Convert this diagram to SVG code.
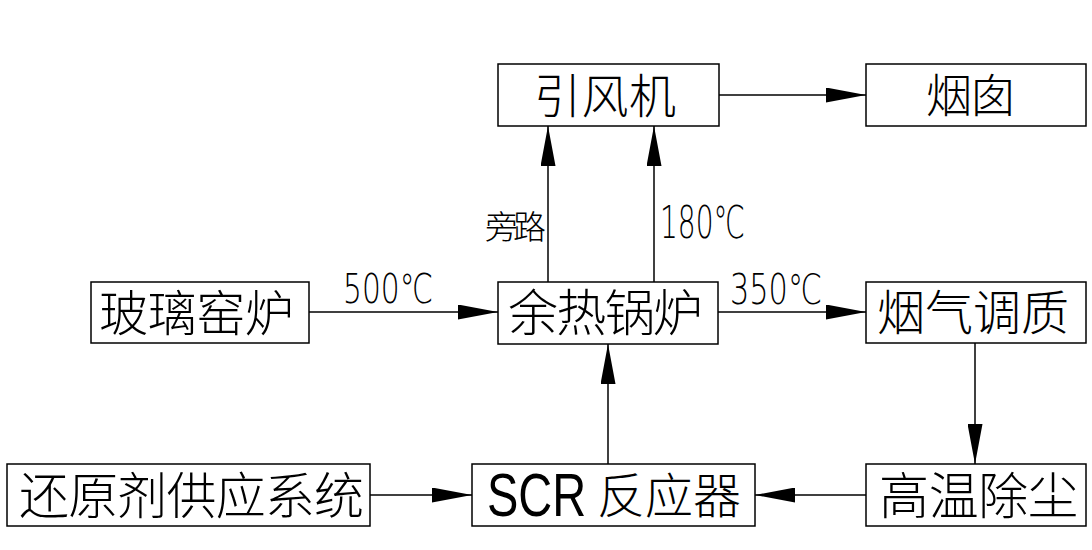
<svg xmlns="http://www.w3.org/2000/svg" width="1092" height="550" viewBox="0 0 1092 550">
<style>
.box{fill:#fff;stroke:#000;stroke-width:1.5}
.cjk{font-family:"Noto Sans CJK SC",sans-serif;font-weight:300;fill:#000}
.num{font-family:"DejaVu Sans","Liberation Sans",sans-serif;font-weight:200;fill:#000}
.lat{font-family:"Liberation Sans",sans-serif;font-weight:normal;fill:#000}
.con{fill:none;stroke:#000;stroke-width:1.5;marker-end:url(#ah)}
</style>
<defs>
<marker id="ah" markerUnits="userSpaceOnUse" markerWidth="40" markerHeight="15" refX="40" refY="7.5" orient="auto">
<path d="M0,0 L40,7.5 L0,15 z" fill="#000"/>
</marker>
</defs>
<rect width="1092" height="550" fill="#fff"/>
<g id="connectors">
<path class="con" d="M309,312 H498"/>
<path class="con" d="M718,312 H866"/>
<path class="con" d="M719,95 H866"/>
<path class="con" d="M548,282 V126"/>
<path class="con" d="M654,282 V126"/>
<path class="con" d="M975,343 V464"/>
<path class="con" d="M866,495 H755"/>
<path class="con" d="M370,495 H472"/>
<path class="con" d="M608,464 V344"/>
<text class="cjk" x="485" y="239" font-size="33" textLength="61">旁路</text>
<text class="num" x="660" y="238" font-size="45" textLength="85" lengthAdjust="spacingAndGlyphs">180℃</text>
<text class="num" x="343" y="303" font-size="41" textLength="90" lengthAdjust="spacingAndGlyphs">500℃</text>
<text class="num" x="730" y="304" font-size="42" textLength="92" lengthAdjust="spacingAndGlyphs">350℃</text>
</g>
<g id="node-yinfengji">
<rect class="box" x="498" y="64" width="221" height="62"/>
<text class="cjk" x="534" y="113" font-size="47" textLength="142">引风机</text>
</g>
<g id="node-yancong">
<rect class="box" x="866" y="64" width="220" height="62"/>
<text class="cjk" x="926" y="112" font-size="46" textLength="90">烟囱</text>
</g>
<g id="node-boliyaolu">
<rect class="box" x="91" y="282" width="218" height="61"/>
<text class="cjk" x="99" y="331" font-size="49" textLength="195">玻璃窑炉</text>
</g>
<g id="node-yureguolu">
<rect class="box" x="498" y="282" width="220" height="62"/>
<text class="cjk" x="508" y="331" font-size="50" textLength="195">余热锅炉</text>
</g>
<g id="node-yanqitiaozhi">
<rect class="box" x="866" y="282" width="220" height="61"/>
<text class="cjk" x="877" y="330" font-size="48" textLength="192">烟气调质</text>
</g>
<g id="node-huanyuanji">
<rect class="box" x="7" y="464" width="363" height="62"/>
<text class="cjk" x="19" y="514" font-size="50" textLength="345">还原剂供应系统</text>
</g>
<g id="node-scr">
<rect class="box" x="472" y="464" width="283" height="62"/>
<text class="lat" transform="translate(487,516) scale(1,1.3)" x="0" y="0" font-size="47">SCR</text>
<text class="cjk" x="597" y="513" font-size="48">反应器</text>
</g>
<g id="node-gaowenchuchen">
<rect class="box" x="866" y="464" width="220" height="62"/>
<text class="cjk" x="879" y="514" font-size="50" textLength="199">高温除尘</text>
</g>
</svg>
